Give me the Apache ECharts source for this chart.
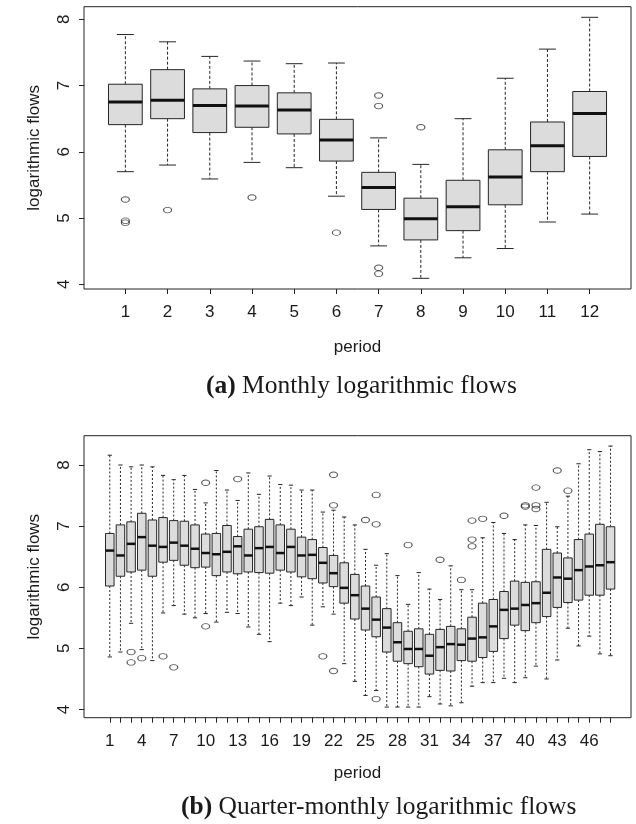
<!DOCTYPE html>
<html>
<head>
<meta charset="utf-8">
<script src="https://cdn.jsdelivr.net/npm/echarts@6/dist/echarts.min.js"></script>
<style>
html,body{margin:0;padding:0;background:#fff;}
#chart{width:636px;height:824px;}
</style>
</head>
<body>
<div id="chart"></div>
<script>
// ---------- (a) Monthly logarithmic flows ----------
const monthLabels  = ['1','2','3','4','5','6','7','8','9','10','11','12'];
const monthLower   = [5.70, 5.80, 5.59, 5.84, 5.76, 5.33, 4.58, 4.09, 4.40, 4.54, 4.94, 5.06];
const monthQ1      = [6.41, 6.50, 6.29, 6.37, 6.27, 5.86, 5.13, 4.67, 4.81, 5.20, 5.70, 5.93];
const monthMedian  = [6.75, 6.78, 6.70, 6.69, 6.63, 6.18, 5.46, 4.99, 5.17, 5.62, 6.09, 6.58];
const monthQ3      = [7.02, 7.24, 6.95, 7.00, 6.89, 6.49, 5.69, 5.30, 5.57, 6.03, 6.45, 6.91];
const monthUpper   = [7.77, 7.66, 7.44, 7.37, 7.33, 7.34, 6.21, 5.81, 6.50, 7.11, 7.55, 8.03];
const monthOutliers = [[1,5.28],[1,4.96],[1,4.93],[2,5.12],[4,5.31],[6,4.78],
                       [7,6.85],[7,6.69],[7,4.25],[7,4.16],[8,6.37]];

// ---------- (b) Quarter-monthly logarithmic flows ----------
const quarterLabels = ['1','2','3','4','5','6','7','8','9','10','11','12','13','14','15','16',
                       '17','18','19','20','21','22','23','24','25','26','27','28','29','30','31','32',
                       '33','34','35','36','37','38','39','40','41','42','43','44','45','46','47','48'];
const quarterLower  = [4.86,4.94,5.41,4.98,4.80,5.58,5.70,5.56,5.50,5.57,5.43,5.59,5.57,5.35,5.23,5.11,
                       5.74,5.70,5.84,5.38,5.68,5.56,4.75,4.46,4.23,4.31,4.04,4.04,4.04,4.04,4.21,4.09,
                       4.06,4.11,4.38,4.44,4.44,4.51,4.44,4.52,4.71,4.50,4.81,5.33,5.04,5.20,4.91,4.88];
const quarterQ1     = [6.02,6.18,6.25,6.28,6.18,6.41,6.44,6.36,6.32,6.33,6.19,6.25,6.22,6.25,6.24,6.23,
                       6.28,6.25,6.17,6.14,6.07,6.01,5.74,5.48,5.30,5.19,4.94,4.79,4.75,4.70,4.58,4.64,
                       4.63,4.80,4.79,4.85,4.95,5.16,5.38,5.29,5.42,5.52,5.67,5.75,5.79,5.87,5.87,5.97];
const quarterMedian = [6.60,6.52,6.71,6.82,6.68,6.66,6.73,6.68,6.63,6.56,6.54,6.58,6.67,6.52,6.64,6.66,
                       6.56,6.66,6.52,6.53,6.40,6.23,5.99,5.87,5.65,5.47,5.34,5.10,4.99,4.99,4.88,5.02,
                       5.07,5.06,5.16,5.18,5.36,5.63,5.65,5.71,5.74,5.91,6.16,6.14,6.28,6.34,6.36,6.41];
const quarterQ3     = [6.88,7.02,7.07,7.21,7.10,7.14,7.09,7.08,7.02,6.87,6.88,7.01,6.83,6.95,6.99,7.11,
                       7.02,6.95,6.82,6.78,6.65,6.52,6.40,6.21,6.02,5.84,5.65,5.42,5.28,5.32,5.23,5.31,
                       5.36,5.32,5.51,5.74,5.80,5.93,6.10,6.08,6.09,6.62,6.56,6.48,6.78,6.87,7.03,6.99];
const quarterUpper  = [8.16,8.00,7.97,8.00,7.97,7.83,7.76,7.83,7.60,7.38,7.91,7.59,7.42,7.87,7.52,7.82,
                       7.68,7.67,7.59,7.59,7.23,7.26,7.15,7.02,6.62,6.36,6.55,6.19,5.72,6.24,5.97,5.80,
                       6.35,5.96,5.96,6.81,7.06,6.88,6.78,7.02,7.01,7.39,6.99,7.49,8.02,8.25,8.22,8.31];
const quarterOutliers = [[3,4.94],[3,4.77],[4,4.84],[6,4.87],[7,4.69],[10,7.71],[10,5.36],[13,7.77],
                         [21,4.87],[22,7.84],[22,7.34],[22,4.63],[25,7.10],[26,7.51],[26,7.03],[26,4.17],
                         [29,6.69],[32,6.45],[34,6.12],[35,7.09],[35,6.78],[35,6.67],[36,7.12],[38,7.17],
                         [40,7.34],[40,7.32],[41,7.63],[41,7.34],[41,7.28],[43,7.91],[44,7.58]];

const yTicks = {min: 4, max: 8, interval: 1};

// ---------- helpers ----------
function boxRows(lower, q1, med, q3, upper) {
  return lower.map((v, i) => [i, lower[i], q1[i], med[i], q3[i], upper[i]]);
}
function outlierRows(list) {
  return list.map(d => [String(d[0]), d[1]]);
}
function makeBoxRenderer(dash, medWidth) {
  return function (params, api) {
    const idx = api.value(0);
    const lo = api.coord([idx, api.value(1)]);
    const q1 = api.coord([idx, api.value(2)]);
    const md = api.coord([idx, api.value(3)]);
    const q3 = api.coord([idx, api.value(4)]);
    const hi = api.coord([idx, api.value(5)]);
    const bw = api.size([1, 0])[0] * 0.8;
    const x = md[0];
    const edge = '#262626';
    const dashStyle = {stroke: edge, lineWidth: 1, lineDash: dash, fill: null};
    const solid = {stroke: edge, lineWidth: 1, fill: null};
    return {
      type: 'group',
      children: [
        {type: 'line', shape: {x1: x, y1: q3[1], x2: x, y2: hi[1]}, style: dashStyle},
        {type: 'line', shape: {x1: x, y1: q1[1], x2: x, y2: lo[1]}, style: dashStyle},
        {type: 'line', shape: {x1: x - bw / 4, y1: hi[1], x2: x + bw / 4, y2: hi[1]}, style: solid},
        {type: 'line', shape: {x1: x - bw / 4, y1: lo[1], x2: x + bw / 4, y2: lo[1]}, style: solid},
        {type: 'rect', shape: {x: x - bw / 2, y: q3[1], width: bw, height: q1[1] - q3[1]},
         style: {fill: '#dcdcdc', stroke: edge, lineWidth: 1}},
        {type: 'line', shape: {x1: x - bw / 2, y1: md[1], x2: x + bw / 2, y2: md[1]},
         style: {stroke: '#111', lineWidth: medWidth, fill: null}}
      ]
    };
  };
}

const FONT = 'Liberation Sans';
const axisText = {fontFamily: FONT, fontSize: 17, color: '#1a1a1a'};

// layout (pixels)
const FRAME_L = 84, FRAME_W = 547;
const TOP_FRAME = {top: 6.7, height: 282.3};
const BOT_FRAME = {top: 435.7, height: 282};
const TOP_DATA = {left: 104.26, width: 506.5, top: 19.3, height: 265};
const BOT_DATA = {left: 104.46, width: 511.4, top: 465.0, height: 244.5};

function frameGrid(f) {
  return {left: FRAME_L, width: FRAME_W, top: f.top, height: f.height, show: true,
          borderColor: '#222', borderWidth: 1, backgroundColor: 'transparent'};
}
function frameX(gi, gap) {
  return {gridIndex: gi, type: 'value', min: 0, max: 1, axisLine: {show: false}, axisTick: {show: false},
          axisLabel: {show: false}, splitLine: {show: false},
          name: 'period', nameLocation: 'middle', nameGap: gap, nameTextStyle: axisText};
}
function frameY(gi) {
  return {gridIndex: gi, type: 'value', min: 0, max: 1, axisLine: {show: false}, axisTick: {show: false},
          axisLabel: {show: false}, splitLine: {show: false},
          name: 'logarithmic flows', nameLocation: 'middle', nameGap: 41, nameRotate: 90,
          nameTextStyle: axisText};
}
function dataX(gi, labels, offset, labelInterval) {
  return {gridIndex: gi, type: 'category', data: labels, boundaryGap: true, offset: offset,
          axisLine: {show: false},
          axisTick: {show: true, alignWithLabel: true, interval: 0, length: 5, inside: false,
                     lineStyle: {color: '#222', width: 1}},
          axisLabel: Object.assign({interval: labelInterval, margin: 15}, axisText),
          splitLine: {show: false}};
}
function dataY(gi, offset) {
  return {gridIndex: gi, type: 'value', min: yTicks.min, max: yTicks.max, interval: yTicks.interval,
          offset: offset, axisLine: {show: false},
          axisTick: {show: true, length: 5, inside: false, lineStyle: {color: '#222', width: 1}},
          axisLabel: Object.assign({rotate: 90, margin: 11}, axisText),
          splitLine: {show: false}};
}
const captionStyle = {fontFamily: 'Liberation Serif', fontSize: 25.5, fontWeight: 'normal', color: '#1a1a1a',
                      rich: {b: {fontFamily: 'Liberation Serif', fontSize: 25.5, fontWeight: 'bold', color: '#1a1a1a'}}};
const outlierStyle = {color: 'rgba(255,255,255,0)', borderColor: '#2a2a2a', borderWidth: 1};

const option = {
  animation: false,
  backgroundColor: '#ffffff',
  title: [
    {text: '{b|(a)} Monthly logarithmic flows', left: 206, top: 373, padding: 0, textStyle: captionStyle},
    {text: '{b|(b)} Quarter-monthly logarithmic flows', left: 181, top: 794, padding: 0, textStyle: captionStyle}
  ],
  grid: [
    frameGrid(TOP_FRAME),
    Object.assign({}, TOP_DATA),
    frameGrid(BOT_FRAME),
    Object.assign({}, BOT_DATA)
  ],
  xAxis: [
    frameX(0, 50),
    dataX(1, monthLabels, 289 - (TOP_DATA.top + TOP_DATA.height), 0),
    frameX(2, 47),
    dataX(3, quarterLabels, (BOT_FRAME.top + BOT_FRAME.height) - (BOT_DATA.top + BOT_DATA.height), 2)
  ],
  yAxis: [
    frameY(0),
    dataY(1, TOP_DATA.left - FRAME_L),
    frameY(2),
    dataY(3, BOT_DATA.left - FRAME_L)
  ],
  series: [
    {type: 'custom', xAxisIndex: 1, yAxisIndex: 1, clip: false,
     renderItem: makeBoxRenderer([3, 2], 3),
     encode: {x: 0, y: [1, 2, 3, 4, 5]},
     data: boxRows(monthLower, monthQ1, monthMedian, monthQ3, monthUpper)},
    {type: 'scatter', xAxisIndex: 1, yAxisIndex: 1, clip: false, symbol: 'circle',
     symbolSize: [8, 5.5], itemStyle: outlierStyle,
     data: outlierRows(monthOutliers)},
    {type: 'custom', xAxisIndex: 3, yAxisIndex: 3, clip: false,
     renderItem: makeBoxRenderer([2, 2], 2.5),
     encode: {x: 0, y: [1, 2, 3, 4, 5]},
     data: boxRows(quarterLower, quarterQ1, quarterMedian, quarterQ3, quarterUpper)},
    {type: 'scatter', xAxisIndex: 3, yAxisIndex: 3, clip: false, symbol: 'circle',
     symbolSize: [8, 5.5], itemStyle: outlierStyle,
     data: outlierRows(quarterOutliers)}
  ]
};

const chart = echarts.init(document.getElementById('chart'), null, {renderer: 'canvas'});
chart.setOption(option);
</script>
</body>
</html>
